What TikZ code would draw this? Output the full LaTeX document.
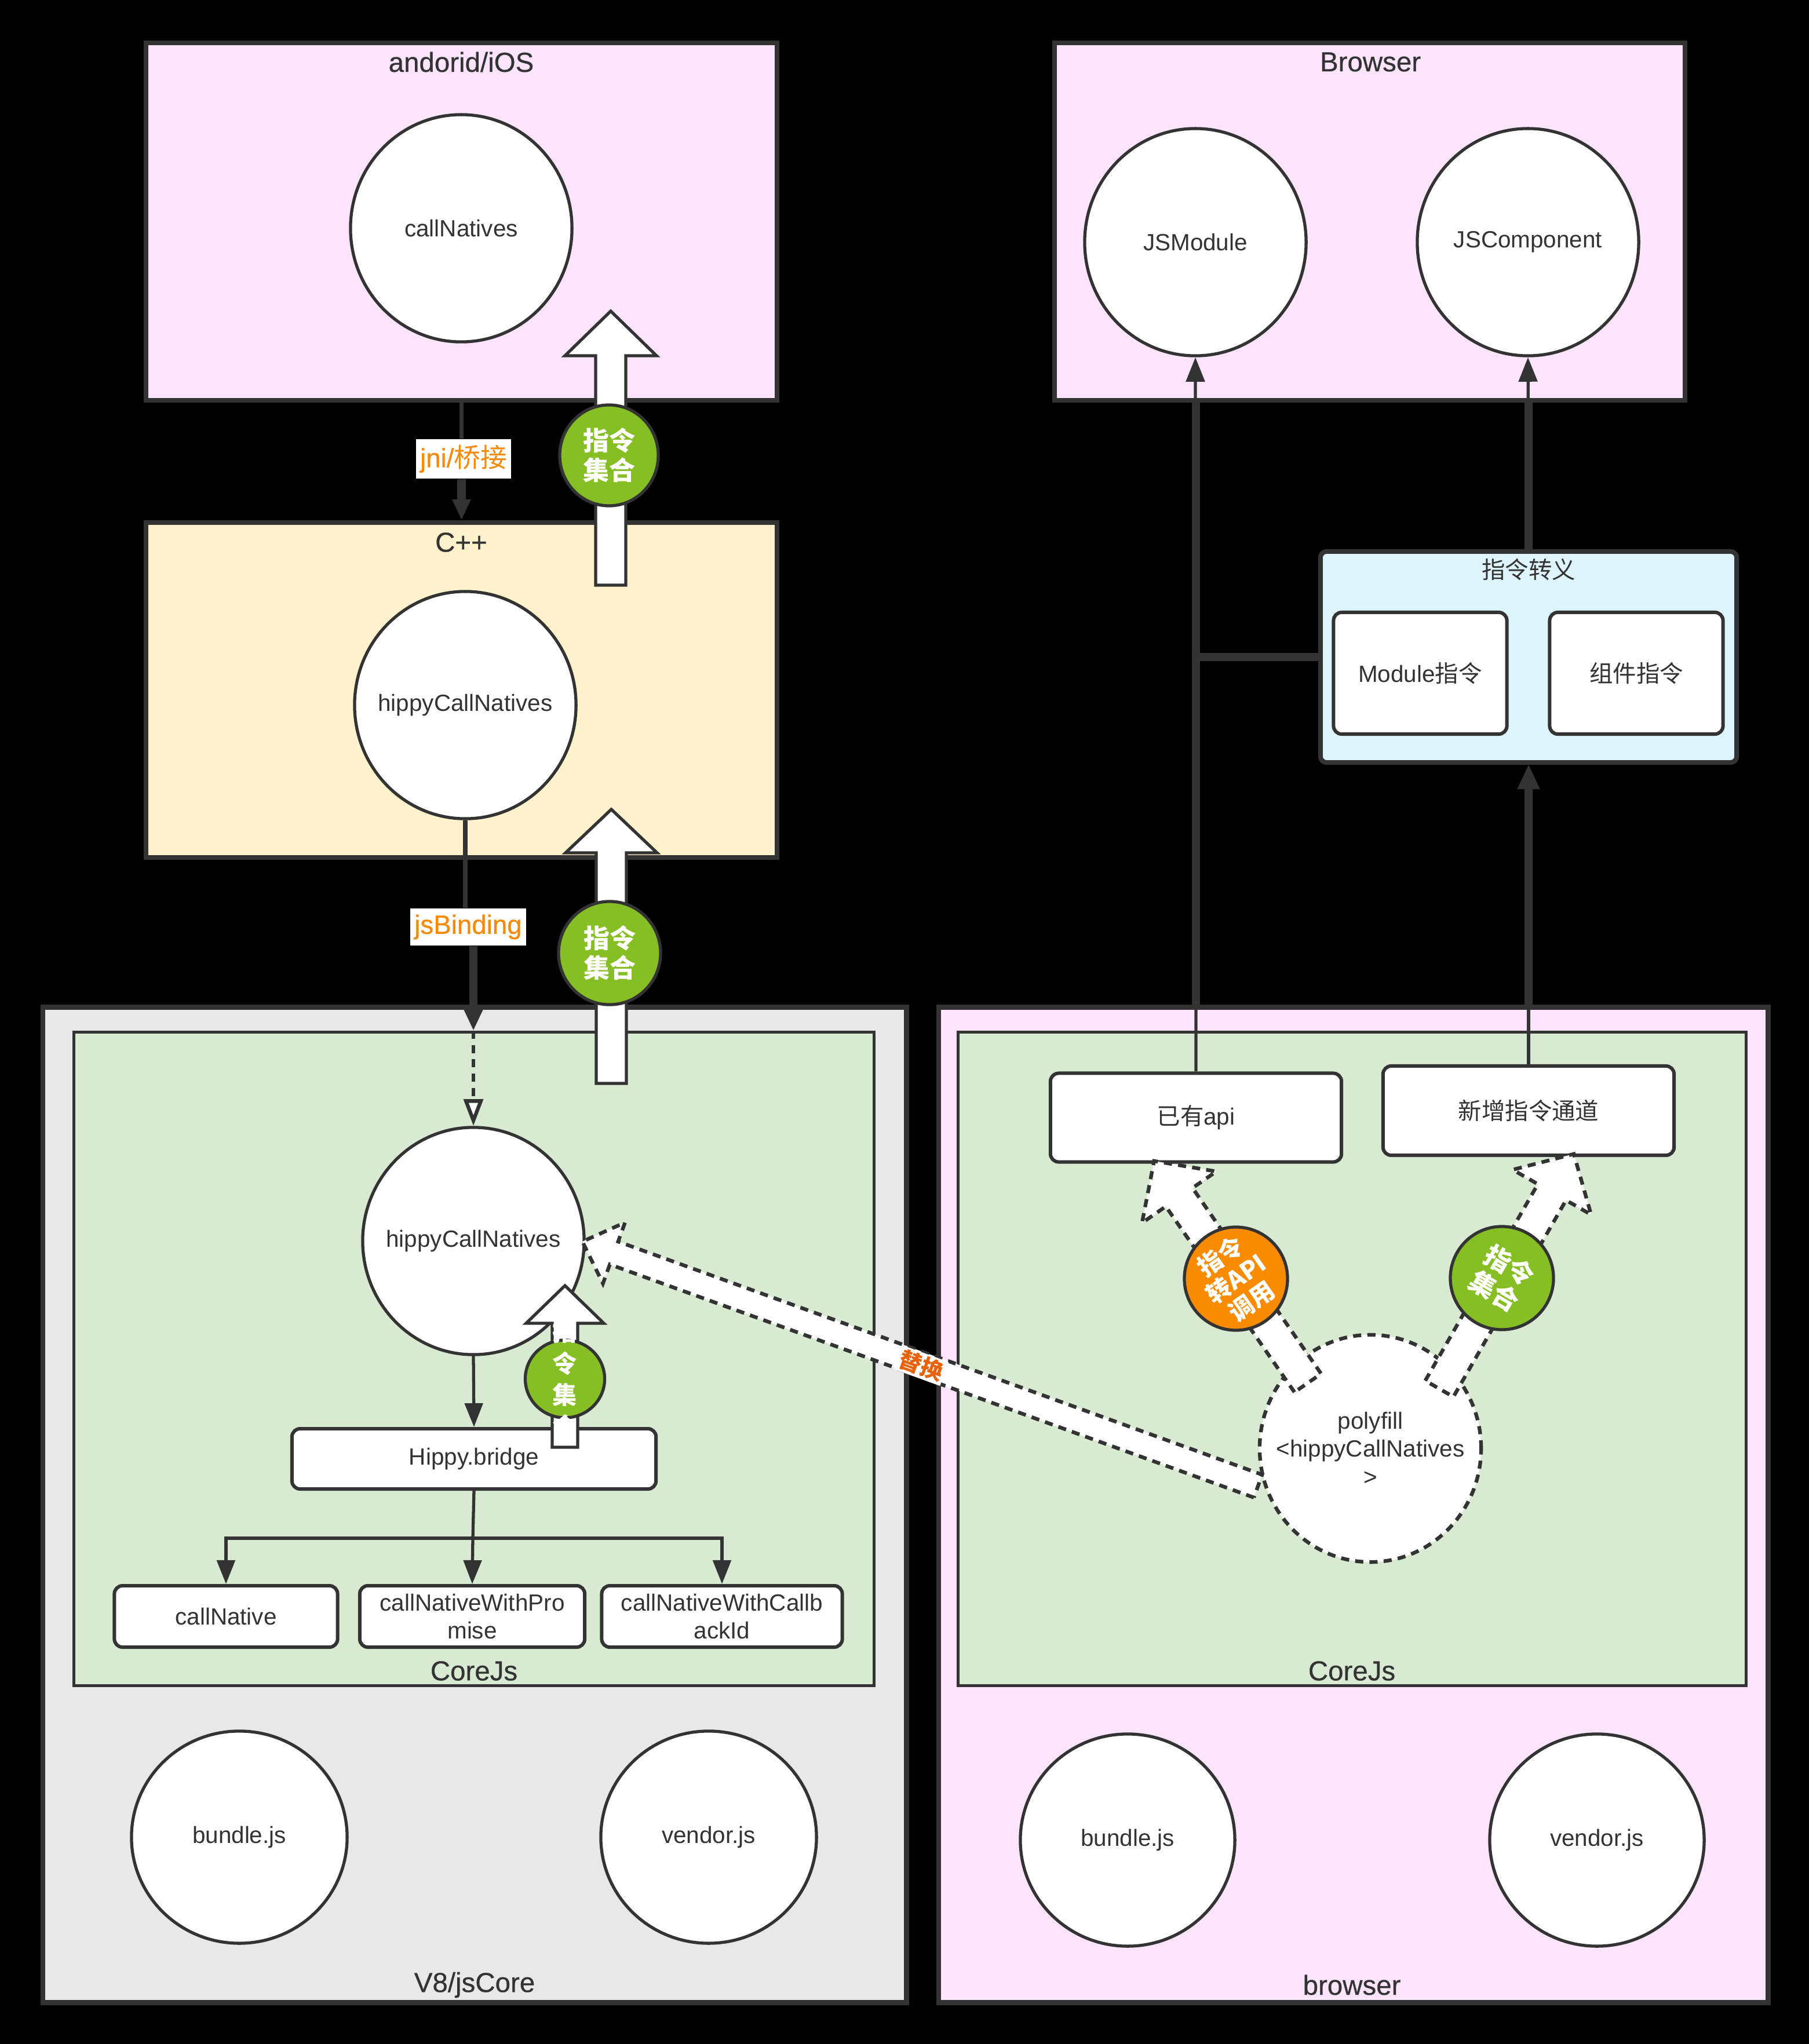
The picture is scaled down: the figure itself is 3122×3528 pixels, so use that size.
\documentclass[tikz,border=0pt]{standalone}
\usepackage{fontspec}
\setmainfont{Liberation Sans}
\newfontfamily\cjk{Noto Sans CJK SC}
\newfontfamily\titlefont{Liberation Sans}[FakeBold=0.5]
\usetikzlibrary{arrows.meta,shapes.geometric,calc}
\definecolor{strk}{HTML}{333333}
\definecolor{pinkbg}{HTML}{FBE4FC}
\definecolor{yelbg}{HTML}{FFF2CC}
\definecolor{graybg}{HTML}{E8E8E8}
\definecolor{greenbg}{HTML}{D9EAD3}
\definecolor{bluebg}{HTML}{DEF5FD}
\definecolor{badgegreen}{HTML}{86BF24}
\definecolor{badgeorange}{HTML}{F98B00}
\definecolor{lblorange}{HTML}{F58A0B}
\definecolor{redorange}{HTML}{E8620A}
% #1 style, #2 tail, #3 angle, #4 length, #5 shaft half width, #6 head half width, #7 head length
\newcommand\hollowarrow[7]{%
  \begin{scope}[shift={#2}, rotate=#3]
    \draw[#1] (0,-#5) -- ({#4-#7},-#5) -- ({#4-#7},-#6) -- (#4,0) -- ({#4-#7},#6) -- ({#4-#7},#5) -- (0,#5) -- cycle;
  \end{scope}}
\begin{document}
\begin{tikzpicture}[x=0.01cm, y=-0.01cm,
  bigbox/.style={rectangle, draw=strk, line width=2.3pt, inner sep=0},
  corebox/.style={rectangle, draw=strk, line width=1.5pt, fill=greenbg, inner sep=0},
  ttl/.style={text=strk, font=\titlefont\fontsize{13.5}{16}\selectfont, inner sep=0},
  circ/.style={ellipse, draw=strk, fill=white, line width=1.5pt, minimum width=3.82cm, minimum height=3.92cm, inner sep=0},
  circtxt/.style={align=center, text=strk, inner sep=0, font=\fontsize{11.5}{13.8}\selectfont},
  rbox/.style={rectangle, rounded corners=4pt, draw=strk, fill=white, line width=1.7pt, align=center, inner sep=0, text=strk, font=\fontsize{11.5}{13.4}\selectfont},
  conn/.style={draw=strk, line width=1.5pt},
  thickc/.style={draw=strk, line width=4pt},
  tipS/.style={-{Triangle[width=0.32cm,length=0.42cm]}},
  tipT/.style={-{Triangle[width=0.31cm,length=0.41cm]}},
  tipL/.style={-{Triangle[width=0.3cm,length=0.36cm]}},
  edgelbl/.style={fill=white, text=lblorange, font=\titlefont\fontsize{13}{15}\selectfont, inner xsep=2pt, inner ysep=3pt},
  hollow/.style={draw=strk, fill=white, line width=1.5pt, line join=miter},
  dhollow/.style={draw=strk, fill=white, line width=1.8pt, line join=miter, dash pattern=on 4pt off 3pt},
  badge/.style={ellipse, draw=strk, line width=1.5pt, inner sep=0},
  badgetxt/.style={text=white, align=center, inner sep=0, font=\cjk\bfseries\fontsize{12.8}{14.5}\selectfont}
]
\useasboundingbox (0,0) rectangle (3122,3528);
\fill[black] (0,0) rectangle (3122,3528);

% ---------- containers ----------
\node[bigbox, fill=pinkbg, minimum width=10.89cm, minimum height=6.17cm] (android) at (796.5,382.5) {};
\node[bigbox, fill=pinkbg, minimum width=10.88cm, minimum height=6.17cm] (browserTop) at (2364,382.5) {};
\node[bigbox, fill=yelbg, minimum width=10.89cm, minimum height=5.78cm] (cpp) at (796.5,1191) {};
\node[bigbox, fill=graybg, minimum width=14.90cm, minimum height=17.17cm] (v8) at (819,2597.5) {};
\node[bigbox, fill=pinkbg, minimum width=14.31cm, minimum height=17.17cm] (browserBot) at (2335.5,2597.5) {};
\node[corebox, minimum width=13.80cm, minimum height=11.27cm] (coreL) at (818,2345.5) {};
\node[corebox, minimum width=13.59cm, minimum height=11.27cm] (coreR) at (2333.5,2345.5) {};
\node[bigbox, fill=bluebg, rounded corners=3pt, minimum width=7.18cm, minimum height=3.64cm] (escape) at (2638,1134) {};

% ---------- titles ----------
\node[ttl] (tAndroid) at (796,107) {andorid/iOS};
\node[ttl] (tBrowser) at (2365,107) {Browser};
\node[ttl] (tCpp) at (796,936) {C++};
\node[ttl] (tV8) at (819,3426) {V8/jsCore};
\node[ttl] (tCoreL) at (818,2884) {CoreJs};
\node[ttl] (tCoreR) at (2333,2884) {CoreJs};
\node[ttl] (tBrowserBot) at (2333,3426) {browser};
\node[text=strk, inner sep=0, font=\cjk\fontsize{11.5}{13}\selectfont] (tEscape) at (2638,983) {指令转义};

% ---------- circles ----------
\node[circ, label={[circtxt]center:callNatives}] (callNatives) at (796,394) {};
\node[circ, label={[circtxt]center:JSModule}] (jsmodule) at (2063,418) {};
\node[circ, label={[circtxt]center:JSComponent}] (jscomp) at (2637,418) {};
\node[circ, label={[circtxt]center:hippyCallNatives}] (hcnC) at (803,1217) {};
\node[circ, label={[circtxt]center:hippyCallNatives}] (hcnV) at (817,2142) {};
\node[circ, line width=1.8pt, dash pattern=on 4pt off 3pt, label={[circtxt]center:{polyfill\\<hippyCallNatives\\>}}] (polyfill) at (2365,2500) {};
\node[circ, minimum width=3.72cm, minimum height=3.66cm, label={[circtxt]center:bundle.js}] (bundleL) at (413,3171) {};
\node[circ, minimum width=3.72cm, minimum height=3.66cm, label={[circtxt]center:vendor.js}] (vendorL) at (1223,3171) {};
\node[circ, minimum width=3.70cm, minimum height=3.66cm, label={[circtxt]center:bundle.js}] (bundleR) at (1946,3176) {};
\node[circ, minimum width=3.70cm, minimum height=3.66cm, label={[circtxt]center:vendor.js}] (vendorR) at (2756,3176) {};

% ---------- boxes ----------
\node[rbox, minimum width=6.28cm, minimum height=1.04cm] (bridge) at (818,2518) {Hippy.bridge};
\node[rbox, minimum width=3.85cm, minimum height=1.06cm] (callNative) at (390,2790) {callNative};
\node[rbox, minimum width=3.88cm, minimum height=1.06cm] (promise) at (815,2790) {callNativeWithPro\\mise};
\node[rbox, minimum width=4.15cm, minimum height=1.06cm] (callback) at (1246,2790) {callNativeWithCallb\\ackId};
\node[rbox, minimum width=5.02cm, minimum height=1.53cm] (api) at (2064,1929) {{\cjk 已有}api};
\node[rbox, minimum width=5.02cm, minimum height=1.54cm] (newch) at (2638,1917) {\cjk 新增指令通道};
\node[rbox, minimum width=2.99cm, minimum height=2.10cm] (module) at (2451,1162) {Module{\cjk 指令}};
\node[rbox, minimum width=2.99cm, minimum height=2.10cm] (comp) at (2824,1162) {\cjk 组件指令};

% ---------- left connectors ----------
\node[edgelbl] (jni) at (800,792) {jni/{\cjk 桥接}};
\draw[conn, line width=2pt] (android.south) -- (jni.north -| android.south);
\draw[thickc, tipL] (jni.south -| cpp.north) -- (cpp.north);

\node[edgelbl] (jsb) at (808,1600) {jsBinding};
\draw[conn, line width=2pt] (hcnC.south) -- (hcnC.south |- jsb.north);
\draw[thickc, tipL] (jsb.south -| hcnV.north) -- (hcnV.north |- coreL.north);
\draw[draw=strk, line width=1.8pt, dash pattern=on 4pt off 3pt, -{Triangle[fill=white,width=0.33cm,length=0.46cm]}] (hcnV.north |- coreL.north) -- (hcnV.north);

\draw[conn, tipT] (hcnV.south) -- (bridge.north);
\coordinate (split) at (816,2655);
\draw[conn] (bridge.south) -- (split);
\draw[conn, tipT] (split) -| (callNative.north);
\draw[conn, tipT] (split) -| (callback.north);
\draw[conn, tipT] (split) -- (promise.north);

% ---------- right connectors ----------
\draw[conn, tipS] (api.north) -- (jsmodule.south);
\draw[thickc] (api.north |- browserBot.north) -- (api.north |- browserTop.south);
\draw[thickc] (escape.west) -- (escape.west -| api.north);
\draw[conn, -{Triangle[width=0.38cm,length=0.42cm]}] (newch.north) -- (escape.south);
\draw[thickc] (newch.north |- browserBot.north) -- ($(newch.north |- escape.south)+(0,40)$);
\draw[conn, tipS] (escape.north) -- (jscomp.south);
\draw[thickc] (escape.north) -- (escape.north |- browserTop.south);

% ---------- hollow arrows with badges ----------
\coordinate (a1tail) at (1054,1010);
\hollowarrow{hollow}{(a1tail)}{90}{473}{26}{79}{77}
\node[badge, fill=badgegreen, minimum width=1.70cm, minimum height=1.74cm] (g1) at (1051,786) {};
\node[badgetxt] (g1t) at (g1) {指令\\集合};

\coordinate (a2tail) at (1055,1870);
\hollowarrow{hollow}{(a2tail)}{90}{473}{26}{79}{75}
\node[badge, fill=badgegreen, minimum width=1.76cm, minimum height=1.78cm] (g2) at (1052,1645) {};
\node[badgetxt] (g2t) at (g2) {指令\\集合};

\coordinate (a3tail) at (975,2498);
\hollowarrow{hollow}{(a3tail)}{90}{279}{22}{67}{65}
\node[badge, fill=badgegreen, minimum width=1.37cm, minimum height=1.34cm] (g3) at (975,2380) {};
\node[badgetxt, font=\cjk\bfseries\fontsize{12}{15.4}\selectfont] (g3t) at (g3) {指\\令\\集\\合};

% ---------- dashed hollow arrows from polyfill ----------
\coordinate (d1tail) at (2257,2387);
\hollowarrow{dhollow}{(d1tail)}{124.7}{466}{28}{78}{76}
\node[badge, fill=badgeorange, minimum width=1.78cm, minimum height=1.78cm] (o1) at (2133,2207) {};
\node[badgetxt, rotate=35, font=\cjk\bfseries\fontsize{12}{13.4}\selectfont] (o1t) at (o1) {指令\\转API\\调用};

\coordinate (d2tail) at (2484,2397);
\hollowarrow{dhollow}{(d2tail)}{60.2}{467}{28}{78}{76}
\node[badge, fill=badgegreen, minimum width=1.78cm, minimum height=1.78cm] (g4) at (2592,2206) {};
\node[badgetxt, rotate=-30] (g4t) at (g4) {指令\\集合};

\coordinate (d3tail) at (2171,2565);
\hollowarrow{dhollow}{(d3tail)}{160.1}{1240}{21}{56}{58}
\node[fill=white, rotate=-20, text=redorange, inner sep=1pt, font=\cjk\bfseries\fontsize{11}{12}\selectfont] (replace) at (1590,2357) {替换};
\end{tikzpicture}
\end{document}
